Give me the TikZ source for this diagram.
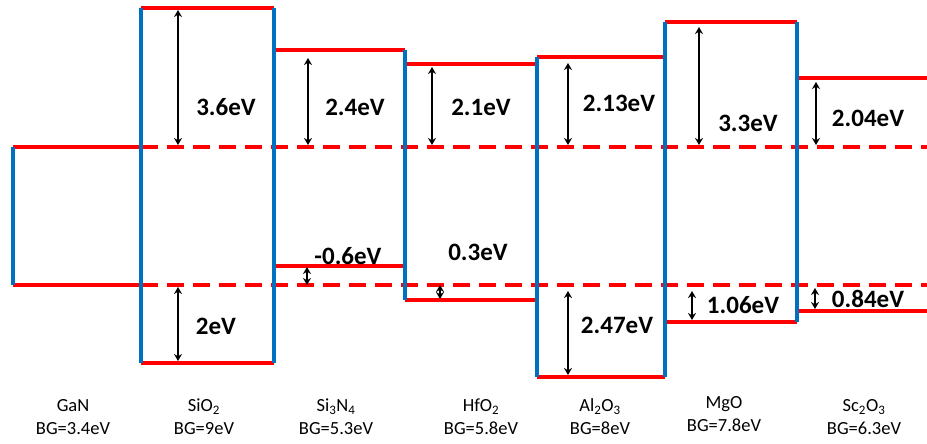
\documentclass[tikz,border=0pt]{standalone}
\usepackage{fontspec}
\setmainfont{Carlito}
\usetikzlibrary{arrows.meta}
\definecolor{cBand}{RGB}{255,0,0}
\definecolor{cWall}{RGB}{0,112,192}

\begin{document}
\begin{tikzpicture}[x=1pt,y=-1pt,
   band/.style={draw=cBand,line width=3.5pt},
   offs/.style={band,dash pattern=on 17pt off 9pt},
   wall/.style={draw=cWall,line width=3.5pt},
   gap/.style={draw=black,line width=1.4pt,{Stealth[length=7pt,width=8pt]}-{Stealth[length=7pt,width=8pt]}},
   val/.style={font=\fontsize{25}{28}\selectfont\bfseries,inner sep=0pt},
   mat/.style={font=\fontsize{18.5}{23}\selectfont,align=center,inner sep=0pt}]
  \useasboundingbox (0,0) rectangle (927,444);
  % GaN reference levels
  \draw[band] (13,147) -- (141,147);
  \draw[band] (13,285) -- (141,285);
  \draw[offs] (141,147) -- (927,147);
  \draw[offs] (141,285) -- (927,285);
  % conduction / valence band edges of the dielectrics
  \foreach \xa/\xb/\yc/\yv in {141/274/8/363, 274/405/50/266, 405/537/64/300,
                              537/665/57/377, 665/797/22/322, 797/927/78/311}{
    \draw[band] (\xa,\yc) -- (\xb,\yc);
    \draw[band] (\xa,\yv) -- (\xb,\yv);
  }
  % interfaces
  \draw[wall] (13,147) -- (13,285);
  \draw[wall] (141,8) -- (141,363);
  \draw[wall] (274,8) -- (274,363);
  \draw[wall] (405,50) -- (405,300);
  \draw[wall] (537,57) -- (537,377);
  \draw[wall] (665,22) -- (665,377);
  \draw[wall] (797,22) -- (797,322);
  % offsets
  \foreach \n/\x/\ya/\yb in {s1/178/10/145, s2/178/287/361, n1/308/58/145, n2/307/267/285,
                             h1/432/67/145, h2/440/285/299, a1/568/63/145, a2/568/291/375,
                             m1/699/27/145, m2/692/291/320, c1/816/82/145, c2/815/288/309}{
    \coordinate (\n a) at (\x,\ya);
    \coordinate (\n b) at (\x,\yb);
    \draw[gap] (\n a) -- (\n b);
  }
  \node[val] (vs1) at (226,107) {3.6eV};
  \node[val] (vs2) at (216,326) {2eV};
  \node[val] (vn1) at (355,107) {2.4eV};
  \node[val] (vn2) at (348,256) {-0.6eV};
  \node[val] (vh1) at (481,107) {2.1eV};
  \node[val] (vh2) at (478,252) {0.3eV};
  \node[val] (va1) at (619,103) {2.13eV};
  \node[val] (va2) at (617,325) {2.47eV};
  \node[val] (vm1) at (748,123) {3.3eV};
  \node[val] (vm2) at (743,305) {1.06eV};
  \node[val] (vc1) at (868,118) {2.04eV};
  \node[val] (vc2) at (868,299) {0.84eV};
  % materials
  \node[mat] (gan) at (73,417)  {GaN\\BG=3.4eV};
  \node[mat] (sio) at (204,417) {SiO\textsubscript{2}\\BG=9eV};
  \node[mat] (sin) at (336,417) {Si\textsubscript{3}N\textsubscript{4}\\BG=5.3eV};
  \node[mat] (hfo) at (481,417) {HfO\textsubscript{2}\\BG=5.8eV};
  \node[mat] (alo) at (600,417) {Al\textsubscript{2}O\textsubscript{3}\\BG=8eV};
  \node[mat] (mgo) at (724,414) {MgO\\BG=7.8eV};
  \node[mat] (sco) at (864,417) {Sc\textsubscript{2}O\textsubscript{3}\\BG=6.3eV};
\end{tikzpicture}
\end{document}
